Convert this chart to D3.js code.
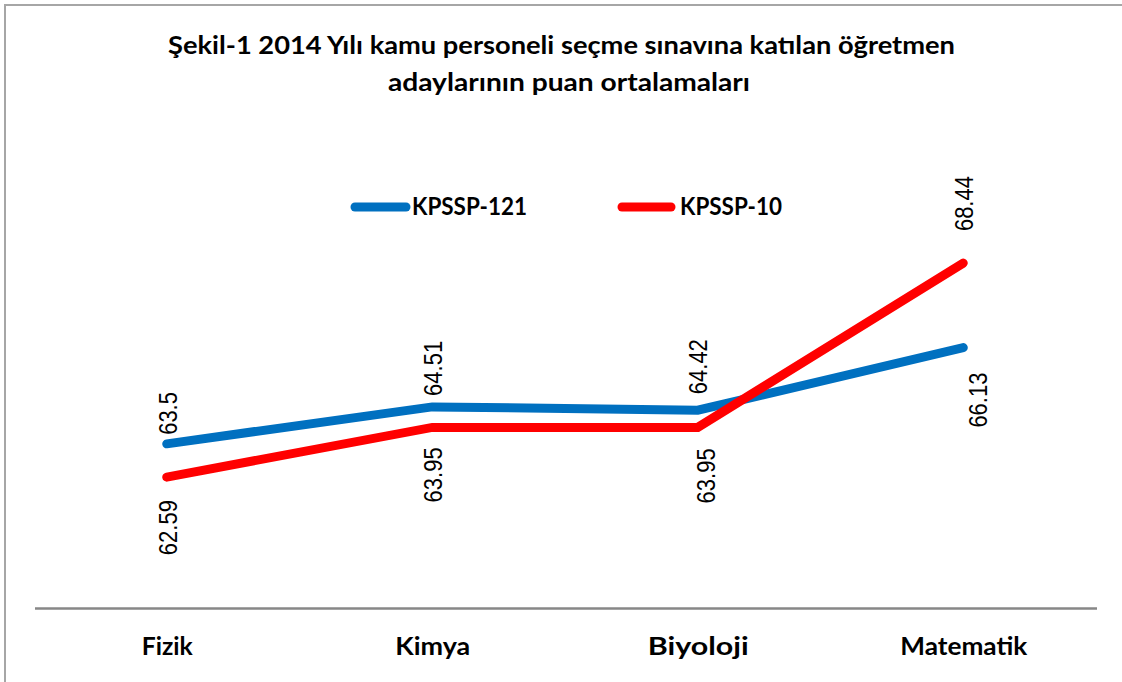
<!DOCTYPE html>
<html><head><meta charset="utf-8">
<script src="https://cdn.jsdelivr.net/npm/d3@7"></script>
<style>html,body{margin:0;padding:0;background:#fff;}svg{display:block;}</style>
</head><body>
<script>
const categories = ["Fizik", "Kimya", "Biyoloji", "Matematik"];
const seriesNames = ["KPSSP-121", "KPSSP-10"];
const kpssp121 = [63.5, 64.51, 64.42, 66.13];
const kpssp10 = [62.59, 63.95, 63.95, 68.44];
const colors = ["#0070C0", "#FF0000"];
const titleLines = ["Şekil-1 2014 Yılı kamu personeli seçme sınavına katılan öğretmen", "adaylarının puan ortalamaları"];

// layout (not data)
const W = 1122, H = 682;
const labelLayout = [
  [{pos:"above", gap:9, dx:1}, {pos:"above", gap:11, dx:0}, {pos:"above", gap:16, dx:0}, {pos:"below", gap:25, dx:14}],
  [{pos:"below", gap:23, dx:1}, {pos:"below", gap:20, dx:0}, {pos:"below", gap:21, dx:8}, {pos:"above", gap:32, dx:0}]
];

const svg = d3.select("body").append("svg").attr("width", W).attr("height", H);
svg.append("rect").attr("x", 0).attr("y", 0).attr("width", W).attr("height", H).attr("fill", "#fff");
svg.append("rect").attr("x", 5).attr("y", 5).attr("width", W + 20).attr("height", H + 20)
  .attr("fill", "none").attr("stroke", "#a6a6a6").attr("stroke-width", 2);

// title
const titleCfg = [{x: 561.5, y: 54, len: 787}, {x: 569, y: 91, len: 362}];
titleLines.forEach((t, i) => {
  svg.append("text").attr("x", titleCfg[i].x).attr("y", titleCfg[i].y)
    .attr("text-anchor", "middle").attr("font-family", "Lato, 'Liberation Sans', sans-serif")
    .attr("font-weight", "bold").attr("font-size", 24)
    .attr("textLength", titleCfg[i].len).attr("lengthAdjust", "spacingAndGlyphs")
    .text(t);
});

const x = d3.scalePoint().domain(categories).range([34, 1096]).padding(0.5);
const y = d3.scaleLinear().domain([59, 70]).range([608.5, 206]);

// x axis
const xAxis = svg.append("g").attr("transform", `translate(0,${y(59)})`)
  .call(d3.axisBottom(x).tickSize(0).tickPadding(0));
xAxis.select(".domain").attr("stroke", "#878787").attr("stroke-width", 2.5).attr("d", "M35,0H1097");
const tickLens = {"Fizik": 51, "Kimya": 75, "Biyoloji": 101, "Matematik": 127};
xAxis.selectAll(".tick text")
  .attr("y", 655 - y(59)).attr("dy", 0)
  .attr("font-family", "Lato, 'Liberation Sans', sans-serif").attr("font-weight", "bold")
  .attr("font-size", 24).attr("fill", "#000")
  .attr("textLength", d => tickLens[d]).attr("lengthAdjust", "spacingAndGlyphs");

// lines
const allSeries = [kpssp121, kpssp10];
const line = d3.line().x((d, i) => x(categories[i])).y(d => y(d));
allSeries.forEach((s, si) => {
  svg.append("path").datum(s).attr("d", line).attr("fill", "none")
    .attr("stroke", colors[si]).attr("stroke-width", 9)
    .attr("stroke-linecap", "round").attr("stroke-linejoin", "miter");
});

// data labels
allSeries.forEach((s, si) => {
  s.forEach((v, i) => {
    const L = labelLayout[si][i];
    const px = x(categories[i]) + L.dx;
    const py = L.pos === "above" ? y(v) - L.gap : y(v) + L.gap;
    const g = svg.append("g").attr("transform", `translate(${px},${py}) rotate(-90) scale(1,1.2)`);
    g.append("text").attr("x", 0).attr("y", 0).attr("dy", "0.35em")
      .attr("text-anchor", L.pos === "above" ? "start" : "end")
      .attr("font-family", "'Liberation Sans', Arial, sans-serif").attr("font-size", 22)
      .attr("fill", "#000").text(String(v));
  });
});

// legend
const legCfg = [{x1: 355, x2: 406, tx: 412, len: 115}, {x1: 622, x2: 671, tx: 680, len: 102}];
seriesNames.forEach((n, i) => {
  svg.append("line").attr("x1", legCfg[i].x1).attr("x2", legCfg[i].x2).attr("y1", 207).attr("y2", 207)
    .attr("stroke", colors[i]).attr("stroke-width", 9).attr("stroke-linecap", "round");
  svg.append("text").attr("x", legCfg[i].tx).attr("y", 215)
    .attr("font-family", "Lato, 'Liberation Sans', sans-serif").attr("font-weight", "bold")
    .attr("font-size", 24).attr("textLength", legCfg[i].len).attr("lengthAdjust", "spacingAndGlyphs")
    .text(n);
});
</script>
</body></html>
